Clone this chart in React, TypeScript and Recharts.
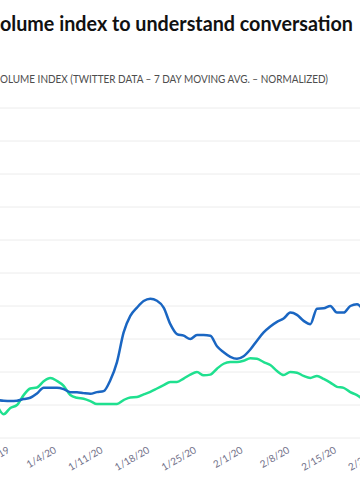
import * as React from 'react';
import { CartesianGrid, Line, LineChart, XAxis, YAxis } from 'recharts';

// days counted from 12/28/19 (day 0), one value per day
const FIRST_DAY = -2;

const blueIndex = [
  11.5, 11.3, 11.2, 11.3, 11.8, 12.2, 13.5, 15.2, 15.2, 15.2, 14.8, 13.9, 13.9, 13.6, 13.4, 13.9,
  14.2, 17.5, 23, 32, 37, 39.5, 41.5, 42.2, 41.6, 39.5, 34.5, 31.5, 31, 30, 31.2, 31.2, 31, 27.8,
  26, 24.6, 24, 24.8, 26.8, 29.5, 32, 33.8, 35.2, 36.2, 38, 37.3, 35.5, 34.5, 39.2, 39.3, 40, 38,
  38, 40, 40.5, 38.5,
];

const greenIndex = [
  10, 7.2, 9.1, 10, 13, 15, 15.3, 17.2, 18.2, 17.3, 15.8, 13, 12.2, 11.9, 11.2, 10.3, 10.3, 10.3,
  10.3, 11.5, 12.3, 12.4, 13.2, 14, 15, 16, 17, 17, 18, 19.2, 20, 19, 19.2, 21, 22.5, 23, 23, 23.4,
  24.2, 24, 23, 22.1, 20.3, 19.1, 20, 19.8, 18.8, 18.2, 18.8, 17.9, 16.8, 15.5, 15.2, 13.9, 13,
  11.5,
];

const tickDays = [0, 7, 14, 21, 28, 35, 42, 49, 56];
const tickLabels = ['12/28/19', '1/4/20', '1/11/20', '1/18/20', '1/25/20', '2/1/20', '2/8/20', '2/15/20', '2/22/20'];

const yTicks = [0, 10, 20, 30, 40, 50, 60, 70, 80, 90, 100];

const data = blueIndex.map((value, i) => ({
  day: FIRST_DAY + i,
  blue: value,
  green: greenIndex[i],
}));

// the reference is a crop of a wider chart, so the plot runs past both edges
const CHART_LEFT = -40;
const CHART_TOP = 100;
const CHART_WIDTH = 460;
const CHART_HEIGHT = 400;
const DAY_ZERO_X = 10.3;
const PX_PER_DAY = 6.667;
const X_DOMAIN: [number, number] = [
  (CHART_LEFT - DAY_ZERO_X) / PX_PER_DAY,
  (CHART_LEFT + CHART_WIDTH - DAY_ZERO_X) / PX_PER_DAY,
];

const FONT = 'Lato, "Open Sans", sans-serif';

function DateTick({ x, y, payload }: { x?: number; y?: number; payload?: { value: number } }) {
  if (x == null || y == null || !payload) return null;
  const label = tickLabels[tickDays.indexOf(payload.value)] ?? '';
  return (
    <g transform={`translate(${x},${y + 14})`}>
      <text
        x={0}
        y={0}
        textAnchor="end"
        transform="rotate(-30)"
        fill="#72728a"
        fontSize={10}
        fontFamily={FONT}
      >
        {label}
      </text>
    </g>
  );
}

export default function App() {
  return (
    <div
      style={{
        position: 'absolute',
        left: 0,
        top: 0,
        width: 360,
        height: 500,
        overflow: 'hidden',
        background: '#fff',
      }}
    >
      <svg width={360} height={100} style={{ position: 'absolute', left: 0, top: 0 }}>
        <text
          x={0}
          y={30.5}
          fill="#111"
          fontSize={20.5}
          fontWeight={700}
          fontFamily={FONT}
          textLength={353}
          lengthAdjust="spacingAndGlyphs"
        >
          olume index to understand conversation
        </text>
        <text
          x={0}
          y={83}
          fill="#4d4d4d"
          fontSize={10.5}
          fontFamily={FONT}
          textLength={328}
          lengthAdjust="spacingAndGlyphs"
        >
          OLUME INDEX (TWITTER DATA – 7 DAY MOVING AVG. – NORMALIZED)
        </text>
      </svg>
      <div style={{ position: 'absolute', left: CHART_LEFT, top: CHART_TOP }}>
        <LineChart
          width={CHART_WIDTH}
          height={CHART_HEIGHT}
          data={data}
          margin={{ top: 8, right: 0, bottom: 12, left: 0 }}
        >
          <CartesianGrid vertical={false} stroke="#ececec" strokeWidth={1} />
          <XAxis
            type="number"
            dataKey="day"
            domain={X_DOMAIN}
            allowDataOverflow
            ticks={tickDays}
            interval={0}
            height={50}
            axisLine={false}
            tickLine={false}
            tickSize={0}
            tickMargin={0}
            tick={<DateTick />}
          />
          <YAxis hide type="number" domain={[0, 100]} ticks={yTicks} />
          <Line
            type="monotone"
            dataKey="green"
            stroke="#1fe08f"
            strokeWidth={2.5}
            dot={false}
            isAnimationActive={false}
          />
          <Line
            type="monotone"
            dataKey="blue"
            stroke="#1a66c2"
            strokeWidth={2.5}
            dot={false}
            isAnimationActive={false}
          />
        </LineChart>
      </div>
    </div>
  );
}
